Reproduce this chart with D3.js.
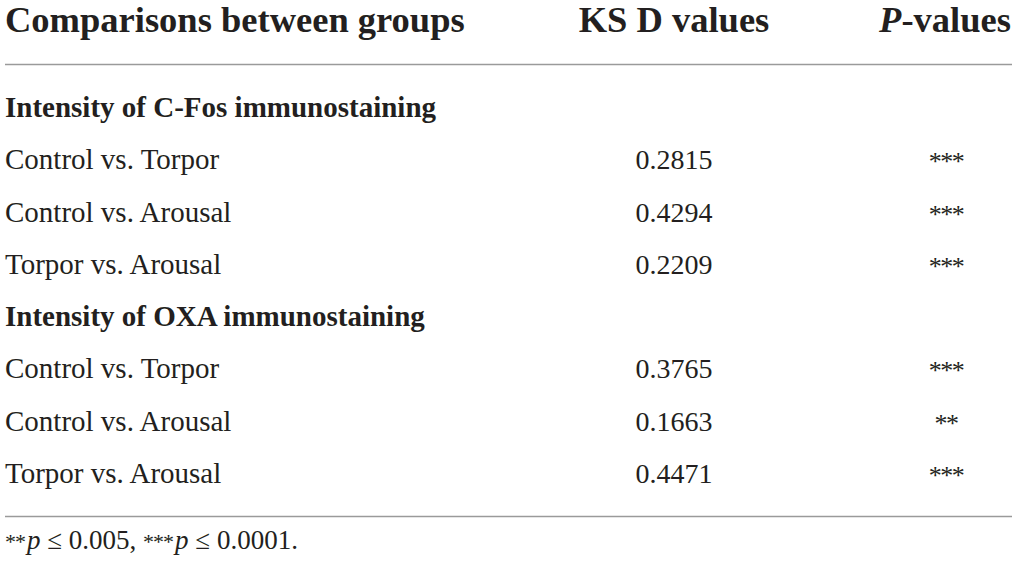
<!DOCTYPE html>
<html>
<head>
<meta charset="utf-8">
<script src="https://cdn.jsdelivr.net/npm/d3@7"></script>
<style>
  html, body { margin: 0; padding: 0; background: #fff; }
  svg { display: block; }
  text { font-family: "Liberation Serif", "DejaVu Serif", serif; fill: #231f20; }
</style>
</head>
<body>
<svg id="chart" width="1017" height="570"></svg>
<script>
// ---- data ----
const columnHeaders = ["Comparisons between groups", "KS D values", "P-values"];
const sectionTitles = ["Intensity of C-Fos immunostaining", "Intensity of OXA immunostaining"];
const comparisons = ["Control vs. Torpor", "Control vs. Arousal", "Torpor vs. Arousal"];
const cfosDValues = [0.2815, 0.4294, 0.2209];
const cfosPStars = ["***", "***", "***"];
const oxaDValues = [0.3765, 0.1663, 0.4471];
const oxaPStars = ["***", "**", "***"];
const footnoteParts = [
  {stars: "**", text: " ≤ 0.005, "},
  {stars: "***", text: " ≤ 0.0001."}
];

// ---- build rows ----
const sectionData = [
  {title: sectionTitles[0], d: cfosDValues, p: cfosPStars},
  {title: sectionTitles[1], d: oxaDValues, p: oxaPStars}
];
const rows = [];
sectionData.forEach(s => {
  rows.push({type: "section", label: s.title});
  comparisons.forEach((c, i) => rows.push({type: "row", label: c, d: s.d[i], p: s.p[i]}));
});

const svg = d3.select("#chart");

const y = d3.scaleLinear().domain([0, rows.length - 1]).range([117, 483]);
const colX = {label: 5, value: 674, p: 945};

// header
const header = svg.append("g");
header.append("text").attr("x", colX.label).attr("y", 32)
  .attr("font-size", 36.5).attr("font-weight", "bold").text(columnHeaders[0]);
header.append("text").attr("x", colX.value).attr("y", 32).attr("text-anchor", "middle")
  .attr("font-size", 36.5).attr("font-weight", "bold").text(columnHeaders[1]);
const pH = header.append("text").attr("x", colX.p).attr("y", 32).attr("text-anchor", "middle")
  .attr("font-size", 36.5).attr("font-weight", "bold");
pH.append("tspan").attr("font-style", "italic").text(columnHeaders[2].slice(0, 1));
pH.append("tspan").text(columnHeaders[2].slice(1));

// rules
svg.append("line").attr("x1", 5).attr("x2", 1012).attr("y1", 64.5).attr("y2", 64.5)
  .attr("stroke", "#9a9a9a").attr("stroke-width", 1.5);
svg.append("line").attr("x1", 5).attr("x2", 1012).attr("y1", 516.5).attr("y2", 516.5)
  .attr("stroke", "#9a9a9a").attr("stroke-width", 1.5);

// body rows
const g = svg.append("g").selectAll("g").data(rows).join("g")
  .attr("transform", (d, i) => `translate(0,${y(i)})`);

g.append("text").attr("x", colX.label)
  .attr("font-size", 29)
  .attr("font-weight", d => d.type === "section" ? "bold" : "normal")
  .text(d => d.label);

const fmt = d3.format(".4f");
g.filter(d => d.type === "row").append("text")
  .attr("x", colX.value).attr("text-anchor", "middle").attr("font-size", 28)
  .text(d => fmt(d.d));

g.filter(d => d.type === "row").append("text")
  .attr("x", colX.p + 1).attr("text-anchor", "middle").attr("font-size", 26)
  .attr("letter-spacing", -1.5).attr("dy", 1)
  .text(d => d.p);

// footnote
const fn = svg.append("text").attr("x", 5).attr("y", 549).attr("font-size", 27);
footnoteParts.forEach(part => {
  fn.append("tspan").attr("font-size", 22).attr("letter-spacing", -1).text(part.stars);
  fn.append("tspan").attr("font-style", "italic").attr("dx", 2).text("p");
  fn.append("tspan").text(part.text);
});
</script>
</body>
</html>
